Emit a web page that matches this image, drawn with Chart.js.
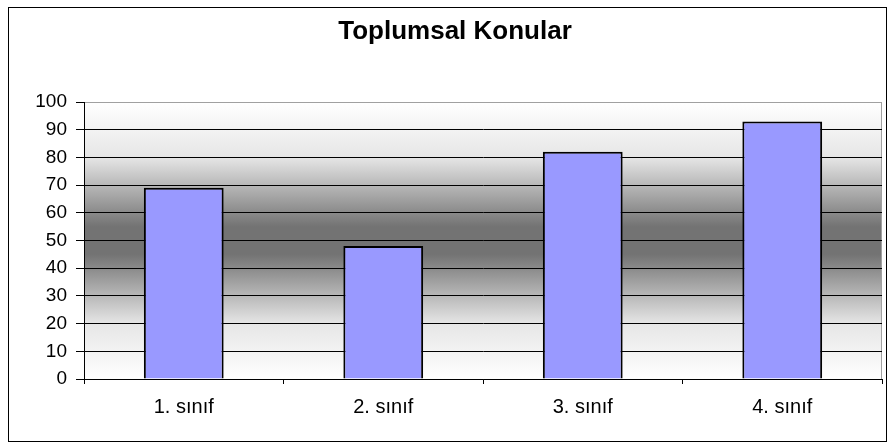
<!DOCTYPE html>
<html>
<head>
<meta charset="utf-8">
<script src="https://cdn.jsdelivr.net/npm/chart.js@4/dist/chart.umd.min.js"></script>
<style>
    html, body { margin: 0; padding: 0; background: #fff; }
    #wrap { width: 894px; height: 448px; }
</style>
</head>
<body>
<div id="wrap"><canvas id="barChart" width="894" height="448"></canvas></div>
<script>
// Chart data
const categories = ['1. sınıf', '2. sınıf', '3. sınıf', '4. sınıf'];
const values = [69, 48, 82, 93];
const chartTitle = 'Toplumsal Konular';

const fontFamily = "'Liberation Sans', Arial, sans-serif";

// Outer frame, gradient background of the plot area and the title
const excelLook = {
    id: 'excelLook',
    beforeDraw(chart) {
        const ctx = chart.ctx;
        const a = chart.chartArea;
        ctx.save();
        ctx.fillStyle = '#ffffff';
        ctx.fillRect(0, 0, chart.width, chart.height);
        ctx.strokeStyle = '#000000';
        ctx.lineWidth = 1;
        ctx.strokeRect(8.5, 7.5, 878, 434);

        const g = ctx.createLinearGradient(0, a.top, 0, a.bottom);
        g.addColorStop(0, '#ffffff');
        g.addColorStop(0.2, '#e6e6e6');
        g.addColorStop(0.45, '#737373');
        g.addColorStop(0.55, '#737373');
        g.addColorStop(0.8, '#e6e6e6');
        g.addColorStop(1, '#ffffff');
        ctx.fillStyle = g;
        ctx.fillRect(a.left, a.top, a.right - a.left, a.bottom - a.top);
        ctx.strokeStyle = '#a0a0a0';
        ctx.strokeRect(a.left + 0.5, a.top + 0.5, a.right - a.left - 1, a.bottom - a.top);

        // title (Excel centres it slightly right of the canvas middle)
        ctx.fillStyle = '#000000';
        ctx.font = 'bold 26px ' + fontFamily;
        ctx.textAlign = 'center';
        ctx.textBaseline = 'alphabetic';
        ctx.fillText(chartTitle, 455, 39);
        ctx.restore();
    }
};

const ctx = document.getElementById('barChart').getContext('2d');
new Chart(ctx, {
    type: 'bar',
    data: {
        labels: categories,
        datasets: [{
            data: values,
            backgroundColor: '#9999FF',
            borderColor: '#000000',
            borderWidth: 2,
            barPercentage: 0.4,
            categoryPercentage: 1.0
        }]
    },
    options: {
        responsive: false,
        animation: false,
        layout: {
            padding: { left: 0, right: 12, top: 102, bottom: 18 }
        },
        plugins: {
            legend: { display: false },
            tooltip: { enabled: false },
            title: { display: false }
        },
        scales: {
            y: {
                min: 0,
                max: 100,
                afterFit: function(scale) { scale.width = 84; },
                ticks: {
                    stepSize: 10,
                    padding: 9,
                    color: '#000000',
                    font: { family: fontFamily, size: 19 }
                },
                grid: {
                    color: function(context) {
                        return context.tick && context.tick.value === 100 ? '#a0a0a0' : '#000000';
                    },
                    tickColor: '#000000',
                    tickLength: 8,
                    lineWidth: 1
                },
                border: { display: true, color: '#000000' }
            },
            x: {
                ticks: {
                    padding: 11,
                    color: '#000000',
                    font: { family: fontFamily, size: 20 }
                },
                grid: {
                    offset: true,
                    drawOnChartArea: false,
                    drawTicks: true,
                    tickLength: 5,
                    color: '#000000'
                },
                border: { display: true, color: '#000000' }
            }
        }
    },
    plugins: [excelLook]
});
</script>
</body>
</html>
